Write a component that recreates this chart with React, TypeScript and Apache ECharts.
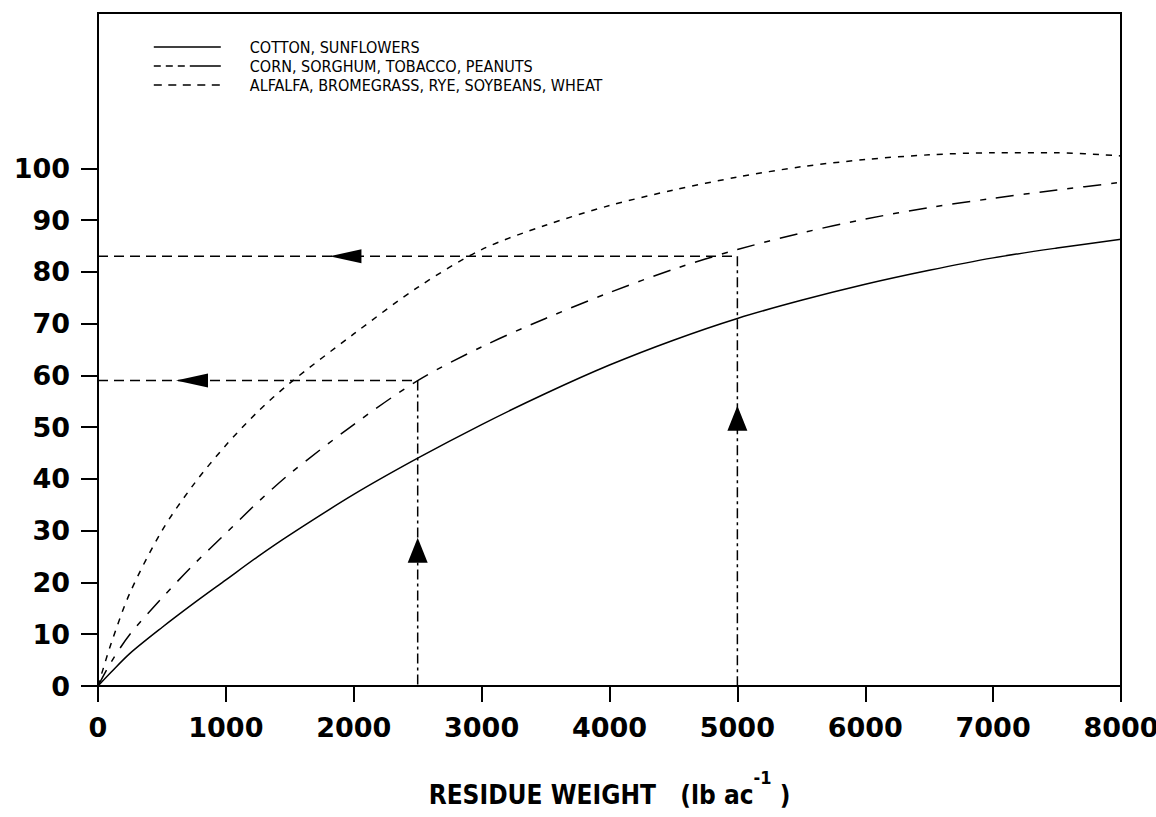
import React, { useEffect, useRef } from "react";
import * as echarts from "echarts";

// ---- data ----
const residueWeight = [0, 100, 250, 500, 750, 1000, 1250, 1500, 2000, 2500, 3000, 3500, 4000, 4500, 5000, 5500, 6000, 6500, 7000, 7500, 8000];
const cottonSunflowers = [0, 2.6, 6.3, 11.3, 16, 20.5, 25, 29.2, 37, 44, 50.5, 56.5, 62, 66.8, 71, 74.5, 77.6, 80.3, 82.7, 84.6, 86.3];
const cornSorghumTobaccoPeanuts = [0, 4.5, 10, 17, 23.5, 29.5, 35.5, 41, 50.5, 59, 65.5, 71, 76, 80.5, 84.3, 87.5, 90.2, 92.4, 94.2, 95.8, 97.3];
const alfalfaBromegrassRyeSoybeansWheat = [0, 8, 18, 30, 39, 46.5, 53, 58.5, 68, 77, 84.3, 89, 92.8, 95.8, 98.3, 100.3, 101.7, 102.6, 103, 103, 102.4];
const seriesNames = [
  "COTTON, SUNFLOWERS",
  "CORN, SORGHUM, TOBACCO, PEANUTS",
  "ALFALFA, BROMEGRASS, RYE, SOYBEANS, WHEAT",
];
const xTicks = [0, 1000, 2000, 3000, 4000, 5000, 6000, 7000, 8000];
const yTicks = [0, 10, 20, 30, 40, 50, 60, 70, 80, 90, 100];
// worked examples: residue weight -> cover
const exampleWeights = [2500, 5000];
const exampleCovers = [59, 83];
const upArrowCover = [26.2, 51.7];
const leftArrowWeight = [735, 1935];

const tickFont = '"DejaVu Sans", "Liberation Sans", sans-serif';
const narrowFont = '"Liberation Sans Narrow", "Arial Narrow", "DejaVu Sans Condensed", "Liberation Sans", sans-serif';

const pair = (ys: number[]) => residueWeight.map((x, i) => [x, ys[i]]);

export default function App() {
  const ref = useRef<HTMLDivElement>(null);
  useEffect(() => {
    if (!ref.current) return;
    const chart = echarts.init(ref.current, undefined, { renderer: "svg" });
    const curveStyles: any[] = [
      { color: "#000", width: 1.5, type: "solid" },
      { color: "#000", width: 1.5, type: [18, 10, 6, 10] },
      { color: "#000", width: 1.5, type: [6, 7] },
    ];
    const legendStyles: any[] = [
      { color: "#000", width: 1.6, type: "solid" },
      { color: "#000", width: 1.6, type: [7, 5, 7, 5, 7, 5, 24, 0] },
      { color: "#000", width: 1.6, type: [8, 6.5] },
    ];
    const curves = [cottonSunflowers, cornSorghumTobaccoPeanuts, alfalfaBromegrassRyeSoybeansWheat].map((ys, i) => ({
      name: seriesNames[i],
      type: "line",
      data: pair(ys),
      smooth: 0.3,
      symbol: "none",
      color: "#000",
      lineStyle: curveStyles[i],
      z: 3,
    }));
    const guides: any[] = [];
    exampleWeights.forEach((w, i) => {
      const c = exampleCovers[i];
      guides.push({
        type: "line",
        data: [[0, c], [w, c]],
        symbol: "none",
        lineStyle: { color: "#000", width: 1.5, type: [10, 6] },
        z: 2,
      });
      guides.push({
        type: "line",
        data: [[w, c], [w, 0]],
        symbol: "none",
        lineStyle: { color: "#000", width: 1.5, type: [10, 4, 3, 4] },
        z: 2,
      });
    });
    const arrows: any[] = [
      {
        type: "scatter",
        data: exampleWeights.map((w, i) => [w, upArrowCover[i]]),
        symbol: "triangle",
        symbolSize: [20, 25],
        itemStyle: { color: "#000", opacity: 1 },
        z: 4,
      },
      {
        type: "scatter",
        data: leftArrowWeight.map((w, i) => [w, exampleCovers[i]]),
        symbol: "triangle",
        symbolSize: [14, 32],
        symbolRotate: 90,
        itemStyle: { color: "#000", opacity: 1 },
        z: 4,
      },
    ];
    chart.setOption({
      animation: false,
      backgroundColor: "#fff",
      grid: {
        left: 98,
        right: 35,
        top: 13,
        bottom: 131,
        containLabel: false,
        outerBoundsMode: "none",
        show: true,
        borderColor: "#000",
        borderWidth: 2,
      },
      legend: {
        orient: "vertical",
        left: 148,
        top: 34,
        itemWidth: 67,
        itemHeight: 12,
        itemGap: 3,
        selectedMode: false,
        textStyle: { fontFamily: narrowFont, fontSize: 16, color: "#000", padding: [0, 0, 0, 24] },
        data: seriesNames.map((n, i) => ({
          name: n,
          lineStyle: legendStyles[i],
          itemStyle: { color: "#000", opacity: 0, borderWidth: 0 },
        })),
      },
      xAxis: {
        type: "value",
        min: 0,
        max: 8000,
        interval: 1000,
        splitLine: { show: false },
        axisLine: { show: true, onZero: false, lineStyle: { color: "#000", width: 2 } },
        axisTick: { show: true, inside: false, length: 16, lineStyle: { color: "#000", width: 2 }, customValues: xTicks },
        axisLabel: {
          customValues: xTicks,
          formatter: (v: number) => String(v),
          margin: 28,
          fontFamily: tickFont,
          fontWeight: "bold",
          fontSize: 27,
          color: "#000",
          showMaxLabel: true,
          showMinLabel: true,
          hideOverlap: false,
        },
        name: "{t|RESIDUE WEIGHT   (lb ac}{s|-1}{t| )}",
        nameLocation: "middle",
        nameGap: 82,
        nameTextStyle: {
          rich: {
            t: { fontFamily: narrowFont, fontWeight: "bold", fontSize: 26, color: "#000", lineHeight: 40, verticalAlign: "bottom" },
            s: { fontFamily: narrowFont, fontWeight: "bold", fontSize: 18, color: "#000", lineHeight: 18, verticalAlign: "top" },
          },
        },
      },
      yAxis: {
        type: "value",
        min: 0,
        max: 130,
        splitLine: { show: false },
        axisLine: { show: true, onZero: false, lineStyle: { color: "#000", width: 2 } },
        axisTick: { show: true, inside: false, length: 17, lineStyle: { color: "#000", width: 2 }, customValues: yTicks },
        axisLabel: {
          customValues: yTicks,
          formatter: (v: number) => String(v),
          margin: 28,
          fontFamily: tickFont,
          fontWeight: "bold",
          fontSize: 27,
          color: "#000",
        },
      },
      series: [...curves, ...guides, ...arrows],
    } as any);
    return () => chart.dispose();
  }, []);
  return (
    <div
      ref={ref}
      style={{ position: "fixed", left: 0, top: 0, width: 1156, height: 817, background: "#fff" }}
    />
  );
}
